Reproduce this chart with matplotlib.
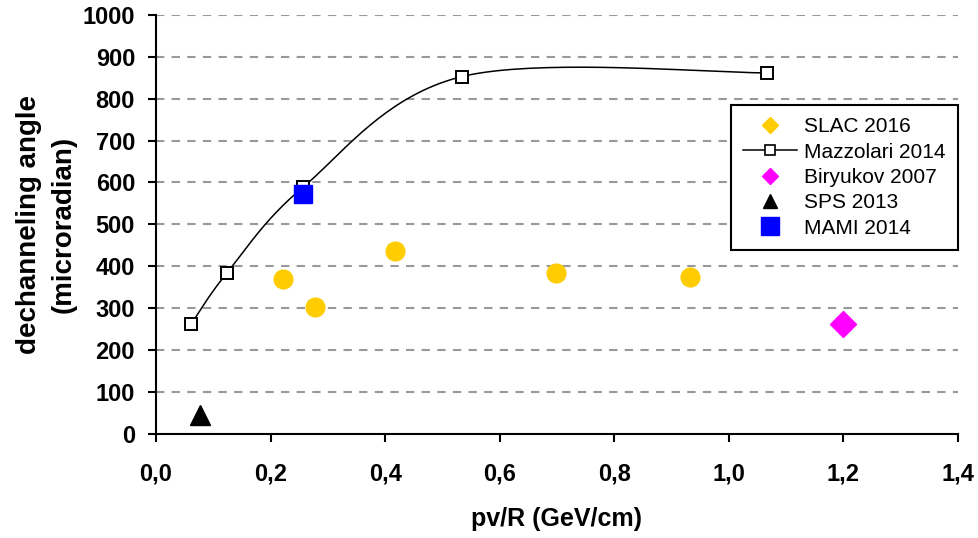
#!/usr/bin/env python3

import numpy as np
import matplotlib
matplotlib.use('Agg')
import matplotlib.pyplot as plt
from matplotlib.lines import Line2D
from matplotlib.ticker import FuncFormatter

plt.rcParams['font.family'] = ['Liberation Sans', 'DejaVu Sans']

# values
slac_x = [0.222, 0.278, 0.418, 0.698, 0.932]
slac_y = [369, 302, 436, 384, 374]
mazz_x = [0.062, 0.124, 0.257, 0.534, 1.066]
mazz_y = [263, 384, 589, 853, 862]
biryukov_x = [1.20]
biryukov_y = [263]
sps_x = [0.077]
sps_y = [44]
mami_x = [0.256]
mami_y = [573]


def smooth(xs, ys, n=40):
    # catmull-rom through the points, like excel's smoothed line
    p = np.column_stack([xs, ys]).astype(float)
    p = np.vstack([p[0], p, p[-1]])
    out = []
    for i in range(1, len(p) - 2):
        p0, p1, p2, p3 = p[i - 1], p[i], p[i + 1], p[i + 2]
        c1 = p1 + (p2 - p0) / 6
        c2 = p2 - (p3 - p1) / 6
        t = np.linspace(0, 1, n)[:, None]
        seg = ((1 - t) ** 3) * p1 + 3 * ((1 - t) ** 2) * t * c1 \
            + 3 * (1 - t) * t ** 2 * c2 + t ** 3 * p2
        out.append(seg)
    out = np.vstack(out)
    return out[:, 0], out[:, 1]


fig = plt.figure(figsize=(9.79, 5.38), dpi=100)
ax = fig.add_axes([0.1593, 0.194, 0.8192, 0.778])

ax.set_xlim(0, 1.4)
ax.set_ylim(0, 1000)
ax.set_xticks(np.arange(0, 1.41, 0.2))
ax.set_yticks(np.arange(0, 1001, 100))
ax.xaxis.set_major_formatter(FuncFormatter(lambda v, p: ('%.1f' % v).replace('.', ',')))

for yv in range(100, 1001, 100):
    ax.axhline(yv, color='#999999', lw=1.5, ls=(0, (4, 3.5)), zorder=0)

sx, sy = smooth(mazz_x, mazz_y)
ax.plot(sx, sy, color='black', lw=1.1, zorder=2)
ax.plot(mazz_x, mazz_y, ls='none', marker='s', ms=9, mfc='white',
        mec='black', mew=1.4, zorder=3)
ax.plot(slac_x, slac_y, ls='none', marker='o', ms=13.5, mfc='#ffcc00',
        mec='#ffcc00', zorder=3)
ax.plot(biryukov_x, biryukov_y, ls='none', marker='D', ms=13, mfc='#ff00ff',
        mec='#ff00ff', zorder=3)
ax.plot(sps_x, sps_y, ls='none', marker='^', ms=14, mfc='black',
        mec='black', zorder=3)
ax.plot(mami_x, mami_y, ls='none', marker='s', ms=12.5, mfc='#0000ff',
        mec='#0000ff', zorder=4)

for s in ['top', 'right']:
    ax.spines[s].set_visible(False)
for s in ['left', 'bottom']:
    ax.spines[s].set_linewidth(1.5)
ax.tick_params(direction='out', length=6, width=1.5, labelsize=17)
ax.xaxis.set_tick_params(pad=15)
ax.yaxis.set_tick_params(pad=9)
for lbl in ax.get_xticklabels() + ax.get_yticklabels():
    lbl.set_fontweight('bold')

ax.set_xlabel('pv/R (GeV/cm)', fontsize=18, fontweight='bold', labelpad=15)
ax.set_ylabel('dechanneling angle\n(microradian)', fontsize=20,
              fontweight='bold', labelpad=4, linespacing=1.45)

handles = [
    Line2D([], [], ls='none', marker='D', ms=8, mfc='#ffcc00', mec='#ffcc00'),
    Line2D([], [], color='black', lw=1.1, marker='s', ms=6.5, mfc='white',
           mec='black', mew=1.2),
    Line2D([], [], ls='none', marker='D', ms=8, mfc='#ff00ff', mec='#ff00ff'),
    Line2D([], [], ls='none', marker='^', ms=10, mfc='black', mec='black'),
    Line2D([], [], ls='none', marker='s', ms=12.5, mfc='#0000ff', mec='#0000ff'),
]
labels = ['SLAC 2016', 'Mazzolari 2014', 'Biryukov 2007', 'SPS 2013', 'MAMI 2014']
leg = ax.legend(handles, labels, loc='upper left', bbox_to_anchor=(731 / 979, 1 - 105 / 538),
                bbox_transform=fig.transFigure,
                fontsize=15, frameon=True, fancybox=False, framealpha=1,
                edgecolor='black', borderpad=0.6, labelspacing=0.3,
                handlelength=2.55, handletextpad=0.35, borderaxespad=0)
leg.get_frame().set_linewidth(1.5)

fig.savefig('out.png', dpi=100)
